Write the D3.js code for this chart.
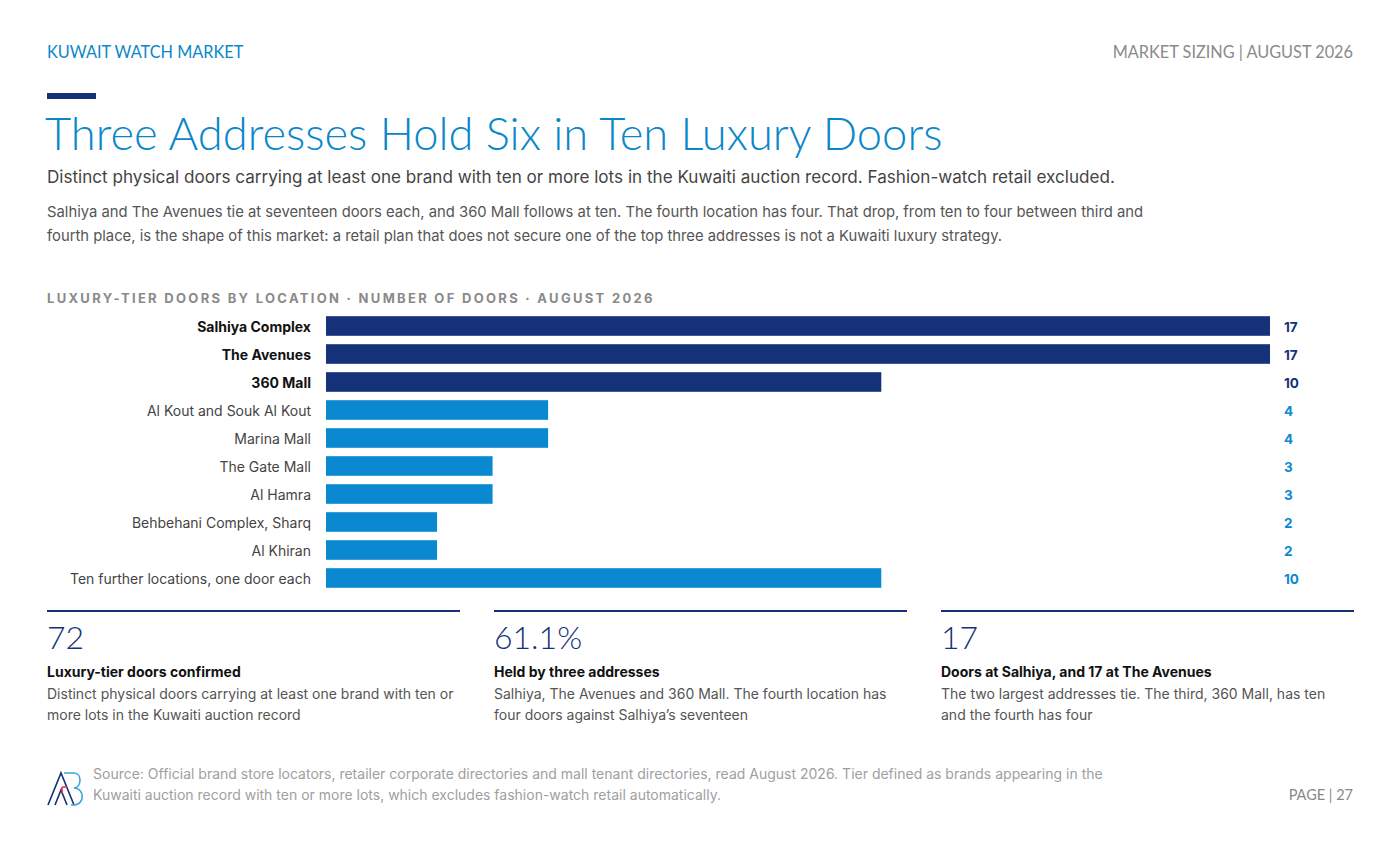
<!DOCTYPE html>
<html><head><meta charset="utf-8">
<script src="https://cdn.jsdelivr.net/npm/d3@7"></script>
<style>
html,body{margin:0;padding:0;background:#fff;}
svg{display:block;}
.hd{font-family:Lato,"Open Sans",sans-serif;}
.in{font-family:Inter,"Noto Sans",sans-serif;}
</style></head>
<body>
<svg id="c" width="1400" height="851"></svg>
<script>
const categories = ["Salhiya Complex","The Avenues","360 Mall","Al Kout and Souk Al Kout","Marina Mall","The Gate Mall","Al Hamra","Behbehani Complex, Sharq","Al Khiran","Ten further locations, one door each"];
const doors = [17,17,10,4,4,3,3,2,2,10];
const topThree = [true,true,true,false,false,false,false,false,false,false];
const stats = [
  {value:"72", label:"Luxury-tier doors confirmed", desc:["Distinct physical doors carrying at least one brand with ten or","more lots in the Kuwaiti auction record"]},
  {value:"61.1%", label:"Held by three addresses", desc:["Salhiya, The Avenues and 360 Mall. The fourth location has","four doors against Salhiya\u2019s seventeen"]},
  {value:"17", label:"Doors at Salhiya, and 17 at The Avenues", desc:["The two largest addresses tie. The third, 360 Mall, has ten","and the fourth has four"]}
];
const NAVY="#14317a", BLUE="#0a89d1";
const svg=d3.select("#c");

// header
svg.append("text").attr("class","hd").attr("x",47).attr("y",58).attr("font-size",16.3).attr("fill","#0a87c9").text("KUWAIT WATCH MARKET");
svg.append("text").attr("class","hd").attr("x",1353).attr("y",58).attr("text-anchor","end").attr("font-size",16.3).attr("fill","#8a8a8a").text("MARKET SIZING | AUGUST 2026");
svg.append("rect").attr("x",47).attr("y",93).attr("width",49).attr("height",6).attr("fill",NAVY);
svg.append("text").attr("class","hd").attr("x",45).attr("y",150).attr("font-size",45.3).attr("font-weight",300).attr("fill","#0a87c9").text("Three Addresses Hold Six in Ten Luxury Doors");
svg.append("text").attr("class","in").attr("x",47).attr("y",183).attr("font-size",17.1).attr("fill","#444").text("Distinct physical doors carrying at least one brand with ten or more lots in the Kuwaiti auction record. Fashion-watch retail excluded.");
const para=["Salhiya and The Avenues tie at seventeen doors each, and 360 Mall follows at ten. The fourth location has four. That drop, from ten to four between third and","fourth place, is the shape of this market: a retail plan that does not secure one of the top three addresses is not a Kuwaiti luxury strategy."];
para.forEach((t,i)=>svg.append("text").attr("class","in").attr("x",47).attr("y",217+i*24).attr("font-size",14.8).attr("fill","#555").text(t));

svg.append("text").attr("class","in").attr("x",47).attr("y",303).attr("font-size",13).attr("font-weight",700).attr("letter-spacing",2.3).attr("fill","#8a8a8a").text("LUXURY-TIER DOORS BY LOCATION \u00b7 NUMBER OF DOORS \u00b7 AUGUST 2026");

// chart
const x=d3.scaleLinear().domain([0,17]).range([326,1270]);
const y=d3.scaleBand().domain(categories).range([312,592]).paddingInner(0.3).paddingOuter(0.15);
const g=svg.append("g");
g.selectAll("rect.bar").data(categories).join("rect").attr("class","bar")
  .attr("x",x(0)).attr("y",d=>y(d)).attr("height",y.bandwidth())
  .attr("width",(d,i)=>x(doors[i])-x(0)).attr("fill",(d,i)=>topThree[i]?NAVY:BLUE);
g.selectAll("text.cat").data(categories).join("text").attr("class","in cat")
  .attr("x",311).attr("y",d=>y(d)+y.bandwidth()/2+1).attr("dy","0.35em").attr("text-anchor","end")
  .attr("font-size",14).attr("font-weight",(d,i)=>topThree[i]?700:400).attr("fill",(d,i)=>topThree[i]?"#111":"#444").text(d=>d);
g.selectAll("text.val").data(categories).join("text").attr("class","in val")
  .attr("x",1284).attr("y",d=>y(d)+y.bandwidth()/2+1).attr("dy","0.35em")
  .attr("font-size",13.5).attr("font-weight",700).attr("fill",(d,i)=>topThree[i]?NAVY:BLUE).text((d,i)=>doors[i]);

// stat blocks
const sx=[47,494,941];
stats.forEach((s,i)=>{
  const gg=svg.append("g").attr("transform",`translate(${sx[i]},0)`);
  gg.append("rect").attr("x",0).attr("y",610).attr("width",413).attr("height",2).attr("fill",NAVY);
  gg.append("text").attr("class","hd").attr("x",0).attr("y",649).attr("font-size",32).attr("font-weight",300).attr("fill",NAVY).text(s.value);
  gg.append("text").attr("class","in").attr("x",0).attr("y",677).attr("font-size",14).attr("font-weight",700).attr("fill","#111").text(s.label);
  s.desc.forEach((t,j)=>gg.append("text").attr("class","in").attr("x",0).attr("y",699+j*21).attr("font-size",14).attr("fill","#555").text(t));
});

// footer logo
const lg=svg.append("g").attr("transform","translate(47,772)");
lg.append("path").attr("d","M1,33 L14,1 L27,33 M8,33 L14,18 L20,33").attr("fill","none").attr("stroke",NAVY).attr("stroke-width",1.6);
lg.append("path").attr("d","M15,15 L20,15 M15,15 L15,22").attr("fill","none").attr("stroke","#e0304e").attr("stroke-width",1.6);
lg.append("path").attr("d","M17,1 L27,1 C35,1 35,15 27,16 C38,16 38,33 27,33 L24,33").attr("fill","none").attr("stroke","#3aa3dc").attr("stroke-width",1.6);
const src=["Source: Official brand store locators, retailer corporate directories and mall tenant directories, read August 2026. Tier defined as brands appearing in the","Kuwaiti auction record with ten or more lots, which excludes fashion-watch retail automatically."];
src.forEach((t,i)=>svg.append("text").attr("class","in").attr("x",93).attr("y",779+i*21).attr("font-size",14).attr("fill","#a0a0a0").text(t));
svg.append("text").attr("class","hd").attr("x",1353).attr("y",800).attr("text-anchor","end").attr("font-size",14.5).attr("fill","#888").text("PAGE | 27");
</script>
</body></html>
